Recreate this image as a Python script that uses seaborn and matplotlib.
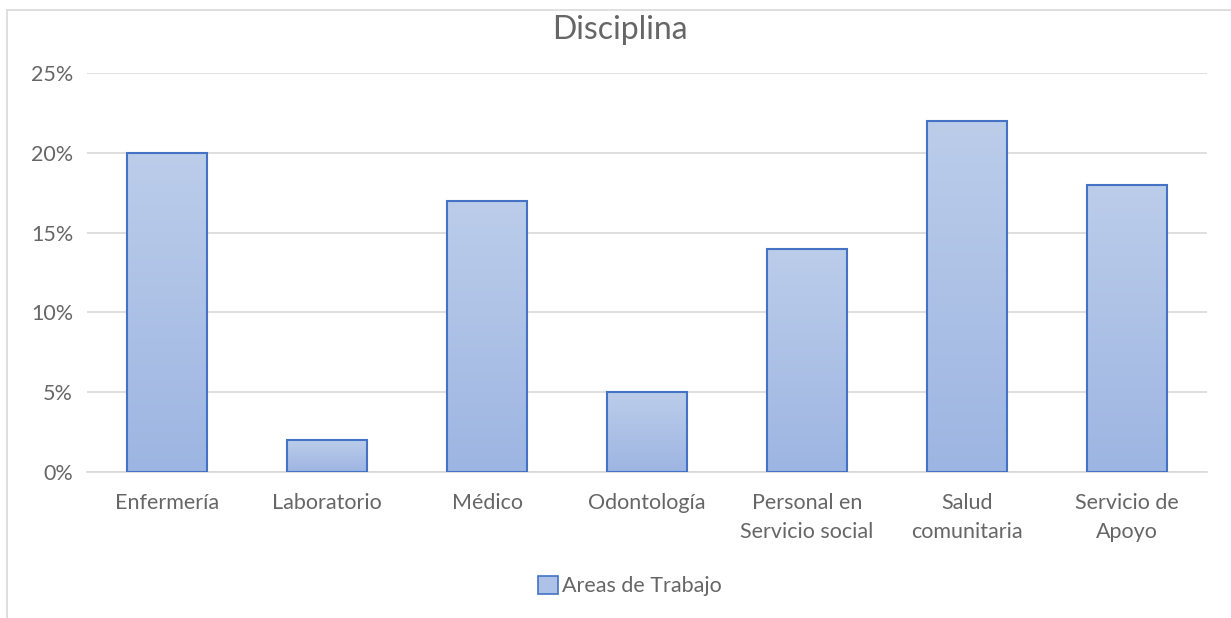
import matplotlib
matplotlib.use("Agg")
import matplotlib.pyplot as plt
import seaborn as sns
import numpy as np
import pandas as pd
from matplotlib.ticker import PercentFormatter
from matplotlib.lines import Line2D
from matplotlib.colors import LinearSegmentedColormap
from matplotlib.patches import Patch

categories = ["Enfermería", "Laboratorio", "Médico", "Odontología",
              "Personal en\nServicio social", "Salud\ncomunitaria", "Servicio de\nApoyo"]
values = [0.20, 0.02, 0.17, 0.05, 0.14, 0.22, 0.18]
series_name = "Areas de Trabajo"
title = "Disciplina"

sns.set_theme(style="white")
plt.rcParams['font.family'] = ['Lato', 'DejaVu Sans']

df = pd.DataFrame({"cat": categories, "val": values})

fig = plt.figure(figsize=(12.31, 6.18), dpi=100)
ax = fig.add_axes([87/1231, 1-472/618, (1207-87)/1231, (472-73)/618])

sns.barplot(data=df, x="cat", y="val", ax=ax, width=0.5,
            color="#adc2e6", edgecolor="#4472c4", linewidth=1.5, zorder=3)

cmap = LinearSegmentedColormap.from_list("g", ["#9db5e2", "#bccdea"])
grad = np.linspace(0, 1, 256).reshape(-1, 1)
for p in ax.patches:
    x0, y0 = p.get_x(), p.get_y()
    w, h = p.get_width(), p.get_height()
    im = ax.imshow(grad, cmap=cmap, origin="lower", aspect="auto",
                   extent=[x0, x0 + w, y0, y0 + h], zorder=3.5)
    im.set_clip_path(p)
    p.set_facecolor("none")
    p.set_zorder(4)

ax.set_xlim(-0.5, len(categories) - 0.5)
ax.set_ylim(0, 0.25)
ax.set_yticks([0, 0.05, 0.10, 0.15, 0.20, 0.25])
ax.yaxis.set_major_formatter(PercentFormatter(1.0, decimals=0))
ax.grid(axis="y", color="#d9d9d9", linewidth=1.2, zorder=0)
ax.set_axisbelow(True)
for s in ["top", "right", "left"]:
    ax.spines[s].set_visible(False)
ax.spines["bottom"].set_color("#d9d9d9")
ax.spines["bottom"].set_linewidth(1.2)
ax.set_xlabel("")
ax.set_ylabel("")
ax.tick_params(axis="both", length=0, labelsize=15.5, labelcolor="#666666")
ax.tick_params(axis="y", pad=10)
ax.tick_params(axis="x", pad=15)
for t in ax.get_xticklabels():
    t.set_linespacing(1.6)

fig.text(620/1231, 1-30/618, title, ha="center", va="center", fontsize=23, color="#666666")

handle = Patch(facecolor="#adc2e6", edgecolor="#4472c4", linewidth=1.2)
fig.legend([handle], [series_name], loc="center", bbox_to_anchor=(630/1231, 1-586/618),
           frameon=False, fontsize=15.5, labelcolor="#666666", handlelength=0.9,
           handleheight=0.9, handletextpad=0.2)

fig.add_artist(Line2D([7/1231, 1.0], [1-10/618, 1-10/618], color="#d9d9d9", linewidth=1.2))
fig.add_artist(Line2D([7/1231, 7/1231], [0, 1-10/618], color="#d9d9d9", linewidth=1.2))

fig.savefig("out.png", dpi=100)
